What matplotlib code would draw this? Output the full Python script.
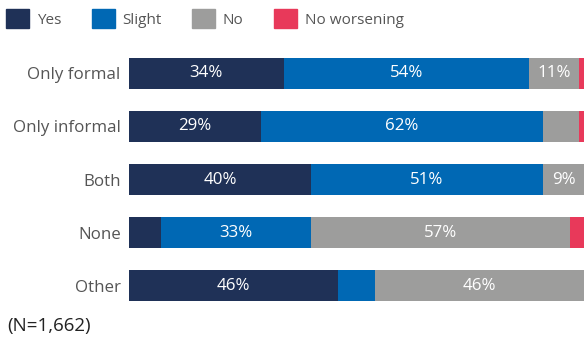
import matplotlib.pyplot as plt
from matplotlib.patches import Patch

plt.rcParams['font.family'] = ['Open Sans', 'DejaVu Sans']

categories = ['Only formal', 'Only informal', 'Both', 'None', 'Other']
yes = [34, 29, 40, 7, 46]
slight = [54, 62, 51, 33, 8]
no = [11, 8, 9, 57, 46]
no_worsening = [1, 1, 0, 3, 0]

series = [('Yes', yes, '#1f3157'),
          ('Slight', slight, '#0068b4'),
          ('No', no, '#9d9d9c'),
          ('No worsening', no_worsening, '#e8395a')]

fig = plt.figure(figsize=(5.84, 3.38), dpi=100)
ax = fig.add_axes([0.2209, 0.0754, 0.7791, 0.787])

y = range(len(categories))
left = [0] * len(categories)
for name, vals, color in series:
    bars = ax.barh(y, vals, left=left, height=0.58, color=color, label=name)
    for i, (b, v) in enumerate(zip(bars, vals)):
        if v >= 9:
            ax.text(left[i] + v / 2, i, f'{v}%', ha='center', va='center',
                    color='white', fontsize=12.2)
    left = [l + v for l, v in zip(left, vals)]

ax.set_xlim(0, 100)
ax.set_ylim(len(categories) - 0.5, -0.5)
ax.set_yticks(list(y))
ax.set_yticklabels(categories, fontsize=12.2, color='#555555')
ax.tick_params(axis='y', length=0, pad=6)
ax.set_xticks([])
for s in ax.spines.values():
    s.set_visible(False)

handles = [Patch(color=c, label=n) for n, _, c in series]
fig.legend(handles=handles, loc='upper left', bbox_to_anchor=(-0.005, 1.0),
           ncol=4, frameon=False, fontsize=11, handlelength=1.5,
           handleheight=1.5, handletextpad=0.5, columnspacing=2.0,
           labelcolor='#555555', borderaxespad=0.2)

fig.text(0.012, 0.035, '(N=1,662)', fontsize=13.5, color='#222222', va='center')

fig.savefig('out.png', dpi=100)
